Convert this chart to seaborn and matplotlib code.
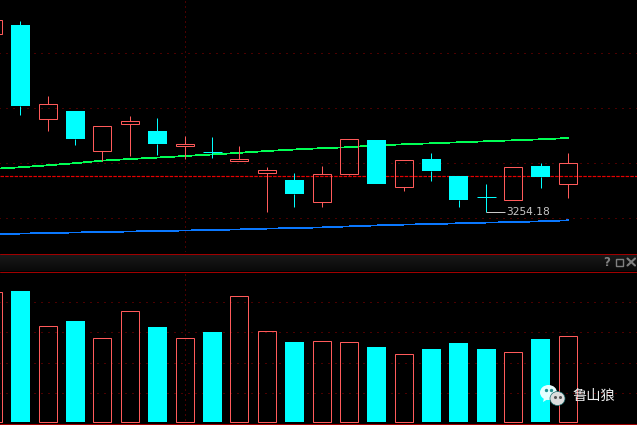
import numpy as np
import pandas as pd
import seaborn as sns
import matplotlib
matplotlib.use("Agg")
import matplotlib.pyplot as plt
from matplotlib.patches import Ellipse, Rectangle, Polygon

# ---- data ----
bars = list(range(-1, 21))
opens = [3432.7, 3441.2, 3347.7, 3355.2, 3315.7, 3342.7, 3335.2, 3320.7, 3314.7, 3305.7, 3293.7,
         3286.2, 3264.7, 3292.7, 3326.2, 3279.7, 3307.2, 3290.2, 3269.2, 3266.7, 3300.2, 3282.7]
closes = [3446.7, 3360.2, 3362.7, 3327.2, 3340.7, 3345.7, 3322.2, 3322.7, 3314.7, 3307.7, 3296.7,
          3272.2, 3292.7, 3327.7, 3282.2, 3306.7, 3295.2, 3266.2, 3269.2, 3299.7, 3289.2, 3303.7]
highs = [3446.7, 3445.2, 3370.2, 3355.2, 3340.7, 3350.2, 3348.2, 3330.2, 3329.2, 3320.2, 3299.2,
         3293.2, 3300.2, 3327.7, 3326.2, 3306.7, 3313.2, 3290.2, 3282.2, 3299.7, 3303.2, 3313.2]
lows = [3432.7, 3351.2, 3335.2, 3321.2, 3305.2, 3310.2, 3311.2, 3307.2, 3308.2, 3305.7, 3254.2,
        3259.2, 3259.2, 3291.2, 3282.2, 3275.2, 3285.2, 3259.2, 3254.2, 3266.7, 3278.2, 3268.2]
is_up = [1, 0, 1, 0, 1, 1, 0, 1, 0, 1, 1, 0, 1, 1, 0, 1, 0, 0, 0, 1, 0, 1]
volumes = [130, 131, 96.5, 101, 84, 111, 95, 84, 90, 126, 91.5,
           80, 80.7, 79.7, 75, 68, 73, 79, 73, 70, 83, 86]
upper_band = [3297.3, 3298.9, 3300.9, 3303.0, 3305.6, 3307.2, 3308.6, 3310.2, 3311.7, 3313.4, 3315.2,
              3316.7, 3318.0, 3319.0, 3320.9, 3321.9, 3322.9, 3323.9, 3324.9, 3325.9, 3326.9, 3328.2]
lower_band = [3232.0, 3232.6, 3233.2, 3233.7, 3234.2, 3234.7, 3235.2, 3235.7, 3236.2, 3236.8, 3237.6,
              3238.1, 3238.8, 3239.8, 3240.8, 3241.6, 3242.1, 3242.9, 3243.6, 3244.1, 3244.9, 3245.9]
price_grid = [3413.7, 3358.7, 3303.7, 3248.7]
volume_grid = [120.5, 90.5, 59.5, 29.5]
reference_price = 3289.8
low_label = "3254.18"
low_value = 3254.2
low_bar = 17
cursor_bar = 6
watermark = "鲁山狼"

# ---- style ----
sns.set_theme(style="dark", rc={"figure.facecolor": "black", "axes.facecolor": "black",
                                "lines.scale_dashes": False, "savefig.facecolor": "black"})
plt.rcParams["font.family"] = ["Noto Sans CJK SC", "DejaVu Sans"]

RED, CYAN, GRID = "#ff5a5a", "#00ffff", "#960000"
PX = 0.72
W, H = 637, 425
XL = (-0.74, -0.74 + W / 27.4)
fig = plt.figure(figsize=(W / 100, H / 100), dpi=100)

def panel(top, bottom):
    ax = fig.add_axes([0, 1 - bottom / H, 1, (bottom - top) / H])
    ax.set_xlim(*XL)
    for s in ax.spines.values():
        s.set_visible(False)
    return ax

def clean(ax):
    ax.set_xlabel("")
    ax.set_ylabel("")
    ax.tick_params(length=0, labelbottom=False, labelleft=False)
    ax.set_xlim(*XL)

df = pd.DataFrame(dict(bar=bars, o=opens, c=closes, h=highs, l=lows, up=is_up, vol=volumes,
                       ub=upper_band, lb=lower_band))
df["top"] = df[["o", "c"]].max(axis=1)
df["bot"] = df[["o", "c"]].min(axis=1)
up, dn = df[df.up == 1], df[df.up == 0]

def grid(ax, ys):
    ax.hlines(ys, -2, 30, color=GRID, lw=PX, ls=(0, (PX, 6 * PX)), snap=True, zorder=1)

def cursor(ax):
    ax.axvline(cursor_bar, color=GRID, lw=PX, ls=(0, (PX, 4 * PX)), snap=True, zorder=1)

# ---- price panel ----
ax = panel(0, 252)
ax.set_ylim(3466.2 - 252, 3466.2)
grid(ax, price_grid)
cursor(ax)
ax.axhline(reference_price, color="#e60000", lw=PX * 1.2, ls=(0, (3.5 * PX, 1.2 * PX)), snap=True, zorder=2)
sns.lineplot(data=df, x="bar", y="ub", ax=ax, color="#00ff55", lw=0.55, antialiased=False, zorder=3)
sns.lineplot(data=df, x="bar", y="lb", ax=ax, color="#0a78ff", lw=0.55, antialiased=False, zorder=3)
for d, col in ((up, RED), (dn, CYAN)):
    ax.vlines(d.bar, d.top, d.h, color=col, lw=PX, snap=True, zorder=4)
    ax.vlines(d.bar, d.l, d.bot, color=col, lw=PX, snap=True, zorder=4)
ax.bar(up.bar, up.top - up.bot, bottom=up.bot, width=18 / 27.4, facecolor="none", edgecolor=RED,
       lw=PX, snap=True, zorder=5)
body = dn[dn.top > dn.bot]
ax.bar(body.bar, body.top - body.bot, bottom=body.bot, width=19 / 27.4, color=CYAN, lw=0,
       snap=True, zorder=5)
doji = dn[dn.top == dn.bot]
ax.hlines(doji.top, doji.bar - 9.5 / 27.4, doji.bar + 9.5 / 27.4, color=CYAN, lw=PX, snap=True, zorder=5)
# low annotation
ax.hlines(low_value, low_bar, low_bar + 19 / 27.4, color="#c8c8c8", lw=PX, snap=True, zorder=6)
ax.text(low_bar + 20 / 27.4, low_value, low_label, color="#c8c8c8", fontsize=7.7, va="center",
        ha="left", family="DejaVu Sans", zorder=7)
clean(ax)

# ---- volume panel ----
vx = panel(272, 425)
vx.set_ylim(-3, 150)
grid(vx, volume_grid)
cursor(vx)
sns.barplot(data=dn, x="bar", y="vol", ax=vx, native_scale=True, color=CYAN, saturation=1,
            width=19 / 27.4, linewidth=0, errorbar=None, zorder=3)
vx.bar(up.bar, up.vol, width=18 / 27.4, facecolor="none", edgecolor=RED, lw=PX, snap=True, zorder=3)
clean(vx)

# ---- window chrome and watermark overlay ----
ov = fig.add_axes([0, 0, 1, 1], zorder=10)
ov.axis("off")
ov.patch.set_alpha(0)
ov.imshow(np.linspace(0.105, 0.04, 17)[:, None], cmap="gray", vmin=0, vmax=1, aspect="auto",
          extent=(0, W, 271, 254), zorder=1)
ov.set_xlim(0, W)
ov.set_ylim(H, 0)
for y in (253.5, 271.5, 423.5):
    ov.axhline(y, color="#a00000", lw=PX, snap=True, zorder=2)
ov.text(606.5, 262, "?", color="#808080", fontsize=8.5, fontweight="bold", ha="center", va="center",
        family="DejaVu Sans", zorder=3)
ov.add_patch(Rectangle((615.5, 258.5), 7, 7, fill=False, ec="#808080", lw=PX * 1.4, snap=True, zorder=3))
ov.plot([627.5, 635], [258.5, 265.5], color="#808080", lw=1.5, zorder=3)
ov.plot([627.5, 635], [265.5, 258.5], color="#808080", lw=1.5, zorder=3)
ov.add_patch(Ellipse((548.5, 392.5), 17, 15, fc="#e6ffff", ec="none", zorder=4))
ov.add_patch(Polygon([[544, 398], [543, 402], [548, 399]], fc="#e6ffff", ec="none", zorder=4))
ov.add_patch(Ellipse((557.5, 398.5), 15, 14, fc="#dcdcdc", ec="#1a6a6a", lw=0.5, zorder=5))
ov.plot([546, 551], [390, 390], ls="none", marker="o", ms=1.4, color="#209090", zorder=6)
ov.plot([554.5, 560], [396.5, 396.5], ls="none", marker="o", ms=1.2, color="#555555", zorder=6)
ov.text(593.5, 396, watermark, color="#f0f0f0", fontsize=10.3, ha="center", va="center", zorder=6)
ov.set_xlim(0, W)
ov.set_ylim(H, 0)

fig.savefig("out.png", dpi=100)
